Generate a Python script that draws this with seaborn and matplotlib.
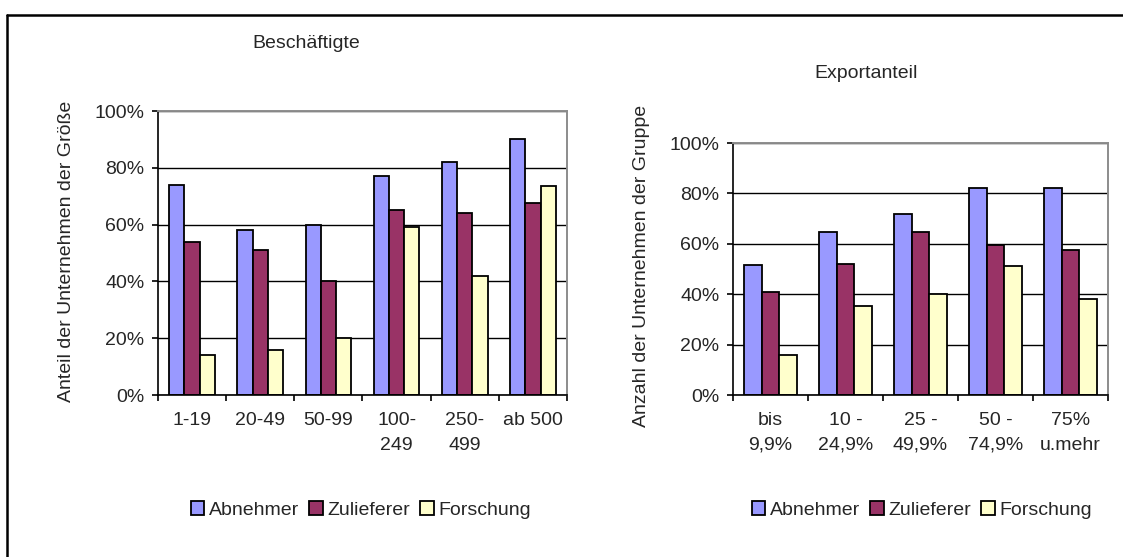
import matplotlib
matplotlib.use("Agg")
import matplotlib.pyplot as plt
from matplotlib.lines import Line2D
from matplotlib.ticker import PercentFormatter, FixedLocator
import seaborn as sns
import pandas as pd
import numpy as np

# --- data -------------------------------------------------------------
series = ["Abnehmer", "Zulieferer", "Forschung"]

groesse = ["1-19", "20-49", "50-99", "100-\n249", "250-\n499", "ab 500"]
abnehmer_groesse = [74, 58, 60, 77, 82, 90]
zulieferer_groesse = [54, 51, 40, 65, 64, 67.5]
forschung_groesse = [14, 16, 20, 59, 42, 73.5]

export = ["bis\n9,9%", "10 -\n24,9%", "25 -\n49,9%", "50 -\n74,9%", "75%\nu.mehr"]
abnehmer_export = [51.5, 64.5, 72, 82, 82]
zulieferer_export = [41, 52, 64.5, 59.5, 57.5]
forschung_export = [16, 35.5, 40, 51, 38]

colors = ["#9999FF", "#993366", "#FFFFCC"]


def long_frame(cats, a, z, f):
    rows = []
    for name, vals in zip(series, (a, z, f)):
        for c, v in zip(cats, vals):
            rows.append({"Kategorie": c, "Gruppe": name, "Wert": v})
    return pd.DataFrame(rows)


df_b = long_frame(groesse, abnehmer_groesse, zulieferer_groesse, forschung_groesse)
df_e = long_frame(export, abnehmer_export, zulieferer_export, forschung_export)

# --- style ------------------------------------------------------------
sns.set_theme(style="white")
plt.rcParams["font.family"] = ["Liberation Sans", "DejaVu Sans"]
FS = 14

W, H = 1123, 557
fig = plt.figure(figsize=(W / 100, H / 100), dpi=100)
fig.patch.set_facecolor("white")


def frac_box(x0, y0, x1, y1):
    return [x0 / W, 1 - y1 / H, (x1 - x0) / W, (y1 - y0) / H]


def style_axes(ax, cats, data, width):
    sns.barplot(data=data, x="Kategorie", y="Wert", hue="Gruppe",
                hue_order=series, order=cats, palette=colors,
                edgecolor="black", linewidth=1.3, width=width,
                saturation=1, legend=False, ax=ax)
    n = len(cats)
    ax.set_xlim(-0.5, n - 0.5)
    ax.set_ylim(0, 100)
    ax.set_yticks(np.arange(0, 101, 20))
    ax.yaxis.set_major_formatter(PercentFormatter(100, decimals=0))
    ax.set_xlabel("")
    ax.set_ylabel("")
    ax.set_axisbelow(True)
    ax.yaxis.grid(True, color="black", linewidth=1.0)
    ax.xaxis.grid(False)
    for side in ("left", "bottom"):
        ax.spines[side].set_color("black")
        ax.spines[side].set_linewidth(1.2)
    for side in ("top", "right"):
        ax.spines[side].set_color("#8c8c8c")
        ax.spines[side].set_linewidth(1.4)
    for sp in ax.spines.values():
        sp.set_zorder(3)
    ax.tick_params(axis="y", which="major", direction="out", length=4.3,
                   width=1.2, color="black", left=True, labelsize=FS, pad=5.5)
    ax.xaxis.set_minor_locator(FixedLocator(np.arange(-0.5, n, 1.0)))
    ax.tick_params(axis="x", which="minor", direction="out", length=4.3,
                   width=1.2, color="black", bottom=True)
    ax.tick_params(axis="x", which="major", length=0, labelsize=FS, pad=12)
    for lbl in ax.get_xticklabels():
        lbl.set_linespacing(1.62)
    ax.set_facecolor("white")


ax1 = fig.add_axes(frac_box(158, 111, 567, 395))
style_axes(ax1, groesse, df_b, 0.67)

ax2 = fig.add_axes(frac_box(733, 143, 1108, 395))
style_axes(ax2, export, df_e, 0.70)

# titles and axis titles
fig.text(306 / W, 1 - 44 / H, "Beschäftigte", ha="center", va="center", fontsize=FS)
fig.text(866 / W, 1 - 74 / H, "Exportanteil", ha="center", va="center", fontsize=FS)
fig.text(67 / W, 1 - 251 / H, "Anteil der Unternehmen der Größe",
         rotation=90, ha="center", va="center", fontsize=FS)
fig.text(641 / W, 1 - 266 / H, "Anzahl der Unternehmen der Gruppe",
         rotation=90, ha="center", va="center", fontsize=FS)

# legends
handles = [plt.Rectangle((0, 0), 1, 1, facecolor=c, edgecolor="black", linewidth=1.3)
           for c in colors]
for cx in (361, 922):
    fig.legend(handles, series, loc="center", bbox_to_anchor=(cx / W, 1 - 510 / H),
               ncol=3, frameon=False, fontsize=FS, handlelength=0.7,
               handleheight=0.7, handletextpad=0.25, columnspacing=0.5,
               borderpad=0)

# outer frame
x0, y0 = 7 / W, 1 - 15 / H
fig.add_artist(Line2D([x0, 1.0], [y0, y0], color="black", linewidth=1.8,
                      transform=fig.transFigure))
fig.add_artist(Line2D([x0, x0], [0.0, y0], color="black", linewidth=1.8,
                      transform=fig.transFigure))

fig.savefig("out.png", dpi=100, facecolor="white")
